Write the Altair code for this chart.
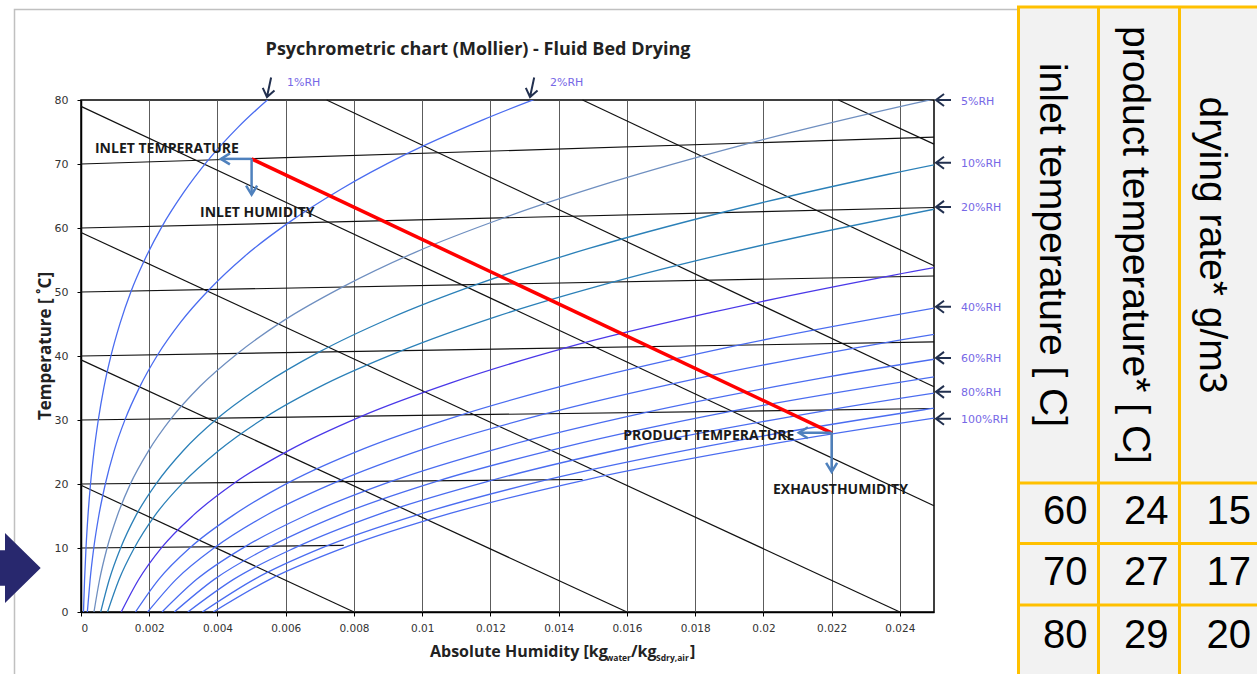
import altair as alt
import pandas as pd

# ---------------- chart values ----------------
X_TICKS = [0, 0.002, 0.004, 0.006, 0.008, 0.01, 0.012, 0.014, 0.016, 0.018, 0.02, 0.022, 0.024]
Y_TICKS = [0, 10, 20, 30, 40, 50, 60, 70, 80]

# relative-humidity curves: absolute humidity (kg/kg) and temperature (degC) along each curve
RH_X = {
    "c02": [0.0000729, 0.0001042, 0.0001467, 0.0002037, 0.0002792, 0.0003783, 0.0005067, 0.0006715, 0.0008808,
            0.0011444, 0.0014732, 0.0018804, 0.0023804, 0.0029898, 0.0037267, 0.0046145, 0.0056763],
    "c05": [0.000186, 0.000266, 0.000374, 0.00052, 0.000713, 0.000966, 0.001293, 0.001714, 0.002248,
            0.002921, 0.00376, 0.004799, 0.006075, 0.00763, 0.009511, 0.011777, 0.014486],
    "c10": [0.00038, 0.000543, 0.000764, 0.001061, 0.001454, 0.00197, 0.002639, 0.003497, 0.004588,
            0.005961, 0.007673, 0.009794, 0.012398, 0.015572, 0.01941, 0.024034, 0.029564],
    "c15": [0.000577, 0.000825, 0.001161, 0.001612, 0.00221, 0.002995, 0.004011, 0.005316, 0.006973,
            0.00906, 0.011663, 0.014887, 0.018845, 0.023669, 0.029503],
    "c20": [0.000777, 0.00111, 0.001562, 0.002169, 0.002974, 0.00403, 0.005397, 0.007152, 0.009382,
            0.01219, 0.015691, 0.020029, 0.025354],
    "c30": [0.001178, 0.001682, 0.002368, 0.003288, 0.004508, 0.006108, 0.008181, 0.010842, 0.014222,
            0.018478, 0.023786, 0.030361],
    "c40": [0.001596, 0.002279, 0.003208, 0.004455, 0.006108, 0.008276, 0.011084, 0.014689, 0.019268, 0.025035],
    "c50": [0.001953, 0.002789, 0.003926, 0.005453, 0.007475, 0.010128, 0.013565, 0.017976, 0.023581, 0.030638],
    "c60": [0.002375, 0.003391, 0.004774, 0.00663, 0.009089, 0.012315, 0.016494, 0.021858, 0.028673],
    "c70": [0.002735, 0.003906, 0.0055, 0.007638, 0.01047, 0.014187, 0.019002, 0.025181],
    "c80": [0.003131, 0.004471, 0.006294, 0.008741, 0.011983, 0.016236, 0.021746, 0.028818],
    "c90": [0.003556, 0.005078, 0.007149, 0.009929, 0.013611, 0.018443, 0.024702, 0.032735],
    "c100": [0.003875, 0.005534, 0.007791, 0.01082, 0.014833, 0.020098, 0.026919],
}
RH_Y = {
    "c02": [0, 5.0, 10.0, 15.0, 20.0, 25.0, 30.0, 35.1, 40.1, 45.1, 50.2, 55.2, 60.3, 65.4, 70.6, 75.8, 81.0],
    "c05": [0, 5.0, 10.0, 15.0, 20.0, 25.1, 30.1, 35.1, 40.2, 45.3, 50.4, 55.6, 60.8, 66.1, 71.5, 76.9, 82.5],
    "c10": [0, 5.0, 10.0, 15.0, 20.1, 25.1, 30.2, 35.3, 40.4, 45.6, 50.8, 56.2, 61.6, 67.2, 73.0, 79.0, 85.2],
    "c15": [0, 5.0, 10.0, 15.1, 20.1, 25.2, 30.3, 35.4, 40.6, 45.9, 51.3, 56.8, 62.5, 68.4, 74.5],
    "c20": [0, 5.0, 10.0, 15.1, 20.1, 25.2, 30.4, 35.6, 40.8, 46.2, 51.7, 57.4, 63.3],
    "c30": [0, 5.0, 10.1, 15.1, 20.2, 25.3, 30.5, 35.8, 41.3, 46.8, 52.6, 58.7],
    "c40": [0, 5.1, 10.1, 15.1, 20.3, 25.5, 30.7, 36.1, 41.7, 47.5],
    "c50": [0, 5.1, 10.1, 15.2, 20.3, 25.6, 30.9, 36.4, 42.1, 48.0],
    "c60": [0, 5.1, 10.1, 15.2, 20.4, 25.7, 31.1, 36.7, 42.5],
    "c70": [0, 5.1, 10.1, 15.3, 20.5, 25.8, 31.3, 36.9],
    "c80": [0, 5.1, 10.1, 15.3, 20.5, 25.9, 31.4, 37.2],
    "c90": [0, 5.1, 10.2, 15.3, 20.6, 26.0, 31.6, 37.5],
    "c100": [0, 5.1, 10.2, 15.4, 20.7, 26.1, 31.8],
}
RH_COLOR = {
    "c02": "#4a6cf0", "c05": "#4a6cf0", "c10": "#6f8fc0", "c15": "#2b80b8", "c20": "#2b80b8",
    "c30": "#4a38e8", "c40": "#4a6cf0", "c50": "#4a6cf0", "c60": "#4a6cf0", "c70": "#4a6cf0",
    "c80": "#4a6cf0", "c90": "#4a6cf0", "c100": "#4a6cf0",
}

# isotherms (nearly horizontal) and isenthalps (falling diagonals): end points
ISOTHERM_X = [[0, 0.0077], [0, 0.0147], [0, 0.025], [0, 0.025], [0, 0.025], [0, 0.025], [0, 0.025]]
ISOTHERM_Y = [[10, 10.4], [20, 20.7], [30, 31.8], [40, 42.2], [50, 52.5], [60, 63.2], [70, 74.2]]
ENTHALPY_X = [[0, 0.008], [0, 0.016], [0, 0.024], [0, 0.025], [0.0072, 0.025], [0.0147, 0.025], [0.0222, 0.025]]
ENTHALPY_Y = [[19.8, 0], [39.4, 0], [59.3, 0], [79.0, 16.6], [80, 35.2], [80, 54.1], [80, 73.1]]

# drying process: inlet state -> product/exhaust state
PROCESS_X = [0.005, 0.022]
PROCESS_Y = [70.8, 28.0]
# read-off arrows from both states (start x, start y, end x, end y)
READOFF = [
    (0.005, 70.8, 0.0041, 70.8, "left"),
    (0.005, 70.8, 0.005, 65.2, "down"),
    (0.022, 28.0, 0.02104, 28.0, "left"),
    (0.022, 28.0, 0.022, 21.9, "down"),
]

NOTE_TEXT = ["INLET TEMPERATURE", "INLET HUMIDITY", "PRODUCT TEMPERATURE", "EXHAUSTHUMIDITY"]
NOTE_X = [0.00041, 0.00349, 0.01589, 0.02028]
NOTE_Y = [72.3, 62.3, 27.5, 19.1]

SIDE_LABELS = ["5%RH", "10%RH", "20%RH", "40%RH", "60%RH", "80%RH", "100%RH"]
SIDE_LABEL_Y = [80.0, 70.2, 63.3, 47.7, 39.7, 34.4, 30.2]
TOP_LABELS = ["1%RH", "2%RH"]
TOP_LABEL_X = [0.00545, 0.01316]

TABLE_HEADERS = ["inlet temperature [ C]", "product temperature* [ C]", "drying rate* g/m3"]
TABLE_ROWS = [[60, 24, 15], [70, 27, 17], [80, 29, 20]]

# ---------------- layout (pixels) ----------------
W, H = 853, 512
LEFT, TOP = 81, 100
TOTAL_W, TOTAL_H = 1257, 674


def rx(p):
    return p - LEFT


def ry(p):
    return p - TOP


one = pd.DataFrame({"k": [0]})

xs = alt.Scale(domain=[0, 0.025], nice=False, zero=False)
ys = alt.Scale(domain=[0, 80], nice=False, zero=False)
x_axis = alt.Axis(values=X_TICKS, labelExpr="'' + datum.value", title=None, grid=True,
                  gridColor="#5c5c5c", gridWidth=1, tickSize=4, tickColor="#000",
                  domainColor="#000", domainWidth=1.5, labelFont="DejaVu Sans",
                  labelFontSize=10.5, labelColor="#333", labelPadding=7, labelOverlap=False)
y_axis = alt.Axis(values=Y_TICKS, title=None, grid=False, tickSize=4, tickColor="#000",
                  domainColor="#000", domainWidth=1.5, labelFont="DejaVu Sans",
                  labelFontSize=11, labelColor="#333", labelPadding=9)


def XE(f="x"):
    return alt.X(f"{f}:Q", scale=xs, axis=x_axis)


def YE(f="y"):
    return alt.Y(f"{f}:Q", scale=ys, axis=y_axis)


# ---- black state lines ----
rows = []
for i, (lx, ly) in enumerate(zip(ISOTHERM_X + ENTHALPY_X, ISOTHERM_Y + ENTHALPY_Y)):
    for j in range(2):
        rows.append({"line": f"L{i}", "ord": j, "x": lx[j], "y": ly[j]})
black_df = pd.DataFrame(rows)
black = alt.Chart(black_df).mark_line(color="#111", strokeWidth=1.2).encode(
    x=XE(), y=YE(), detail="line:N", order="ord:Q")

# ---- RH curves ----
rows = []
for key in RH_X:
    for j, (cx, cy) in enumerate(zip(RH_X[key], RH_Y[key])):
        rows.append({"curve": key, "ord": j, "x": cx, "y": cy})
rh_df = pd.DataFrame(rows)
keys = list(RH_X.keys())
rh = alt.Chart(rh_df).mark_line(clip=True, strokeWidth=1.3, interpolate="monotone").encode(
    x=XE(), y=YE(), order="ord:Q",
    color=alt.Color("curve:N", scale=alt.Scale(domain=keys, range=[RH_COLOR[k] for k in keys]), legend=None))

# ---- process line ----
proc = alt.Chart(pd.DataFrame({"x": PROCESS_X, "y": PROCESS_Y, "ord": [0, 1]})).mark_line(
    color="#ff0000", strokeWidth=3.5).encode(x=XE(), y=YE(), order="ord:Q")

# ---- read-off arrows ----
ro_df = pd.DataFrame(READOFF, columns=["x0", "y0", "x1", "y1", "dir"])
shafts = alt.Chart(ro_df).mark_rule(color="#4f81bd", strokeWidth=2.5).encode(
    x=XE("x0"), x2="x1:Q", y=YE("y0"), y2="y1:Q")
HEAD = "M0.9,-0.55 L0,0 L0.9,0.55"
heads_left = alt.Chart(ro_df[ro_df["dir"] == "left"]).mark_point(
    shape=HEAD, size=400, filled=False, strokeWidth=2.5, color="#4f81bd", opacity=1).encode(
    x=XE("x1"), y=YE("y1"))
heads_down = alt.Chart(ro_df[ro_df["dir"] == "down"]).mark_point(
    shape=HEAD, size=400, angle=270, filled=False, strokeWidth=2.5, color="#4f81bd", opacity=1).encode(
    x=XE("x1"), y=YE("y1"))

# ---- annotations ----
notes = alt.Chart(pd.DataFrame({"x": NOTE_X, "y": NOTE_Y, "t": NOTE_TEXT})).mark_text(
    align="left", baseline="middle", font="Open Sans", fontWeight="bold", fontSize=14,
    color="#1a1a1a").encode(x=XE(), y=YE(), text="t:N")

ARROW = "M1.07,-0.8 L0,0 L1.07,0.8 M0,0 L2,0"
side_df = pd.DataFrame({"y": SIDE_LABEL_Y, "t": SIDE_LABELS})
side_arrows = alt.Chart(side_df).mark_point(
    shape=ARROW, size=225, filled=False, strokeWidth=2, color="#22304f", opacity=1).encode(
    x=alt.value(rx(936)), y=YE())
side_text = alt.Chart(side_df).mark_text(
    align="left", baseline="middle", dy=1.5, font="DejaVu Sans", fontSize=11, color="#7668e6").encode(
    x=alt.value(rx(961)), y=YE(), text="t:N")

TOP_ARROW = "M0.8,-0.6 L0,0 L0.8,0.6 M0,0 L2,0"
top_df = pd.DataFrame({"x": TOP_LABEL_X, "t": TOP_LABELS})
top_arrows = alt.Chart(top_df).mark_point(
    shape=TOP_ARROW, size=400, angle=282, filled=False, strokeWidth=2, color="#22304f", opacity=1).encode(
    x=XE(), y=alt.value(ry(97)))
top_text = alt.Chart(top_df).mark_text(
    align="left", baseline="middle", dx=20, font="DejaVu Sans", fontSize=11, color="#7668e6").encode(
    x=XE(), y=alt.value(ry(83)), text="t:N")


def text_at(t, x, y, **kw):
    return alt.Chart(one).mark_text(**kw).encode(x=alt.value(x), y=alt.value(y), text=alt.value(t))


title = text_at("Psychrometric chart (Mollier) - Fluid Bed Drying", rx(478), ry(50),
                align="center", baseline="middle", font="Open Sans", fontWeight="bold",
                fontSize=18, color="#222")
ytitle = text_at("Temperature [ ˚C]", rx(46), ry(346), angle=270, align="center", baseline="middle",
                 font="Open Sans", fontWeight="bold", fontSize=17, color="#222")
# x-axis title with subscripted units, set piece by piece
xt = dict(baseline="middle", align="left", font="Open Sans", fontWeight="bold", color="#222")
xtitle = [
    text_at("Absolute Humidity [kg", rx(430), ry(652), fontSize=16, **xt),
    text_at("water", rx(606), ry(658), fontSize=8.5, **xt),
    text_at("/kg", rx(631), ry(652), fontSize=16, **xt),
    text_at("Sdry,air", rx(656), ry(658), fontSize=8.5, **xt),
    text_at("]", rx(690), ry(652), fontSize=16, **xt),
]

frame = alt.Chart(one).mark_rect(fillOpacity=0, stroke="#c0c0c0", strokeWidth=1.5).encode(
    x=alt.value(rx(14.5)), x2=alt.value(rx(1018)), y=alt.value(ry(9.5)), y2=alt.value(ry(700)))

BLOCK = "M0,0 L-1.02,-1 L-1.02,-0.51 L-1.6,-0.51 L-1.6,0.51 L-1.02,0.51 L-1.02,1 Z"
block_arrow = alt.Chart(one).mark_point(shape=BLOCK, size=4900, filled=True, color="#28286e",
                                         opacity=1, strokeWidth=0).encode(
    x=alt.value(rx(40.7)), y=alt.value(ry(568)))

# ---- table ----
COL_EDGES = [1018.5, 1098.5, 1179.5, 1262]
ROW_EDGES = [7, 483, 543.5, 605, 700]
table = [alt.Chart(one).mark_rect(color="#f2f2f2").encode(
    x=alt.value(rx(1018)), x2=alt.value(rx(1262)), y=alt.value(ry(6)), y2=alt.value(ry(700)))]
HEADER_CX = [1052, 1135, 1212]
for h, cx in zip(TABLE_HEADERS, HEADER_CX):
    table.append(text_at(h, rx(cx), ry(245), angle=90, align="center", baseline="middle",
                         font="Liberation Sans", fontSize=39, color="#000"))
ROW_CY = [512, 573, 636]
for r, cy in zip(TABLE_ROWS, ROW_CY):
    for c, v in enumerate(r):
        table.append(text_at(str(v), rx(COL_EDGES[c + 1] - 11), ry(cy), align="right", baseline="middle",
                             font="Liberation Sans", fontSize=40, color="#000"))
for ex in COL_EDGES[:3]:
    table.append(alt.Chart(one).mark_rule(color="#ffc000", strokeWidth=3).encode(
        x=alt.value(rx(ex)), y=alt.value(ry(6)), y2=alt.value(ry(700))))
for ey in ROW_EDGES[:4]:
    table.append(alt.Chart(one).mark_rule(color="#ffc000", strokeWidth=3).encode(
        x=alt.value(rx(1017)), x2=alt.value(rx(1262)), y=alt.value(ry(ey))))

chart = alt.layer(
    frame, black, rh, proc, shafts, heads_left, heads_down, notes,
    side_arrows, side_text, top_arrows, top_text, title, ytitle, *xtitle, block_arrow, *table
).properties(
    width=W, height=H,
    padding={"left": LEFT, "top": TOP, "right": TOTAL_W - LEFT - W, "bottom": TOTAL_H - TOP - H},
    autosize=alt.AutoSizeParams(type="none"),
    background="white",
).configure_view(stroke="#000", strokeWidth=1.5)

chart.save("out.html", embed_options={"renderer": "svg", "actions": False})
